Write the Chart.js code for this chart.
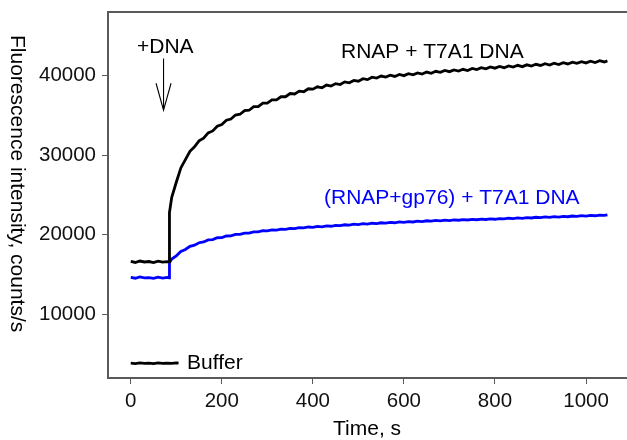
<!DOCTYPE html>
<html>
<head>
<meta charset="utf-8">
<title>Fluorescence intensity</title>
<script src="https://cdn.jsdelivr.net/npm/chart.js@4.4.1/dist/chart.umd.min.js"></script>
<style>
    html, body { margin: 0; padding: 0; background: #ffffff; }
    #grafico { display: block; }
</style>
</head>
<body>
<canvas id="grafico" width="627" height="440"></canvas>
<script>
// Time points (s), shared by both reaction traces
const tempos = [
    0, 10, 20, 30, 40, 50, 60, 70, 80, 84,
    85, 90, 100, 110, 120, 130, 140, 150, 160, 170, 180, 190,
    200, 210, 220, 230, 240, 250, 260, 270, 280, 290,
    300, 310, 320, 330, 340, 350, 360, 370, 380, 390,
    400, 410, 420, 430, 440, 450, 460, 470, 480, 490,
    500, 510, 520, 530, 540, 550, 560, 570, 580, 590,
    600, 610, 620, 630, 640, 650, 660, 670, 680, 690,
    700, 710, 720, 730, 740, 750, 760, 770, 780, 790,
    800, 810, 820, 830, 840, 850, 860, 870, 880, 890,
    900, 910, 920, 930, 940, 950, 960, 970, 980, 990,
    1000, 1010, 1020, 1030, 1040, 1047
];

// RNAP + T7A1 DNA (counts/s)
const rnapT7A1 = [
    16650, 16520, 16700, 16580, 16640, 16510, 16690, 16560, 16620, 16600,
    22800, 24700, 26600, 28400, 29450, 30500, 31050, 31800, 32150, 32800, 33050, 33650,
    33850, 34400, 34550, 35050, 35150, 35600, 35650, 36100, 36100, 36550,
    36550, 36950, 36950, 37350, 37350, 37750, 37700, 38050, 37980, 38350,
    38300, 38600, 38480, 38820, 38700, 39000, 38880, 39220, 39100, 39400,
    39300, 39620, 39500, 39800, 39700, 39950, 39820, 40050, 39900, 40150,
    40000, 40250, 40100, 40350, 40200, 40450, 40300, 40550, 40420, 40650,
    40500, 40720, 40580, 40800, 40650, 40900, 40760, 41000, 40850, 41100,
    40940, 41150, 41000, 41230, 41080, 41300, 41130, 41360, 41200, 41430,
    41280, 41500, 41330, 41560, 41400, 41630, 41470, 41700, 41540, 41760,
    41600, 41820, 41650, 41880, 41720, 41850
];

// (RNAP+gp76) + T7A1 DNA (counts/s)
const rnapGp76T7A1 = [
    14650, 14540, 14700, 14580, 14620, 14530, 14680, 14560, 14640, 14600,
    16500, 16950, 17350, 17900, 18150, 18550, 18700, 19000, 19100, 19350, 19400, 19630,
    19650, 19850, 19860, 20050, 20040, 20210, 20200, 20370, 20360, 20510,
    20480, 20620, 20590, 20720, 20690, 20810, 20780, 20900, 20860, 20980,
    20930, 21060, 21000, 21120, 21070, 21190, 21140, 21260, 21210, 21330,
    21280, 21390, 21340, 21450, 21400, 21510, 21460, 21560, 21510, 21610,
    21560, 21660, 21610, 21710, 21660, 21760, 21710, 21800, 21750, 21840,
    21790, 21880, 21830, 21910, 21860, 21940, 21890, 21970, 21920, 22000,
    21950, 22040, 21990, 22080, 22030, 22120, 22070, 22160, 22110, 22200,
    22150, 22240, 22190, 22280, 22230, 22320, 22270, 22360, 22310, 22400,
    22350, 22440, 22390, 22480, 22430, 22500
];

// Buffer alone
const temposTampao = [0, 10, 20, 30, 40, 50, 60, 70, 80, 90, 100, 105];
const tampao = [3880, 3820, 3900, 3840, 3870, 3810, 3890, 3830, 3880, 3850, 3900, 3860];

const ticksX = [0, 200, 400, 600, 800, 1000];
const ticksY = [10000, 20000, 30000, 40000];

const FONTE = "'Liberation Sans', Arial, sans-serif";
const COR_EIXO = '#5a5a5a';

function montarPontos(xs, ys) {
    return xs.map((x, i) => ({ x: x, y: ys[i] }));
}

// Labels, arrow and the top frame line
const pluginAnotacoes = {
    id: 'anotacoes',
    afterDraw(chart) {
        const ctx = chart.ctx;
        const area = chart.chartArea;
        const sx = chart.scales.x;
        const sy = chart.scales.y;

        ctx.save();
        ctx.strokeStyle = COR_EIXO;
        ctx.lineWidth = 2;
        ctx.beginPath();
        ctx.moveTo(area.left - 1, area.top);
        ctx.lineTo(chart.width, area.top);
        ctx.stroke();

        // +DNA arrow
        const xSeta = sx.getPixelForValue(72);
        const yTopo = sy.getPixelForValue(42150);
        const yPonta = sy.getPixelForValue(35650);
        ctx.strokeStyle = '#000';
        ctx.lineWidth = 1.1;
        ctx.beginPath();
        ctx.moveTo(xSeta, yTopo);
        ctx.lineTo(xSeta, yPonta);
        ctx.moveTo(xSeta - 7.5, yPonta - 27);
        ctx.lineTo(xSeta, yPonta);
        ctx.lineTo(xSeta + 7.5, yPonta - 27);
        ctx.stroke();

        ctx.font = '21px ' + FONTE;
        ctx.textAlign = 'left';
        ctx.textBaseline = 'alphabetic';
        ctx.fillStyle = '#000';
        ctx.fillText('+DNA', 137, 53);
        ctx.fillText('RNAP + T7A1 DNA', 341, 58);
        ctx.fillText('Buffer', 187, 369);
        ctx.fillText('Time, s', 333, 435);
        ctx.fillStyle = '#0000ff';
        ctx.fillText('(RNAP+gp76) + T7A1 DNA', 324, 204);

        // y axis title, reading downwards
        ctx.fillStyle = '#000';
        ctx.translate(11, 35);
        ctx.rotate(Math.PI / 2);
        ctx.fillText('Fluorescence intensity, counts/s', 0, 0);
        ctx.restore();
    }
};

function criarGrafico() {
    const ctx = document.getElementById('grafico').getContext('2d');

    const config = {
        type: 'line',
        data: {
            datasets: [
                {
                    label: 'RNAP + T7A1 DNA',
                    data: montarPontos(tempos, rnapT7A1),
                    borderColor: '#000000',
                    borderWidth: 2.8
                },
                {
                    label: '(RNAP+gp76) + T7A1 DNA',
                    data: montarPontos(tempos, rnapGp76T7A1),
                    borderColor: '#0000ff',
                    borderWidth: 2.8
                },
                {
                    label: 'Buffer',
                    data: montarPontos(temposTampao, tampao),
                    borderColor: '#000000',
                    borderWidth: 2.8
                }
            ]
        },
        options: {
            responsive: false,
            animation: false,
            devicePixelRatio: 1,
            elements: {
                point: { radius: 0 },
                line: { tension: 0, fill: false }
            },
            layout: { padding: { top: 12, right: 0, left: 0, bottom: 0 } },
            plugins: {
                legend: { display: false },
                tooltip: { enabled: false }
            },
            scales: {
                x: {
                    type: 'linear',
                    min: -50,
                    max: 1090,
                    afterBuildTicks: (escala) => { escala.ticks = ticksX.map(v => ({ value: v })); },
                    afterFit: (escala) => {
                        escala.height = 62;
                        escala.paddingLeft = 0;
                        escala.paddingRight = 0;
                    },
                    grid: { drawOnChartArea: false, drawTicks: true, tickLength: 6, color: COR_EIXO },
                    border: { display: true, color: COR_EIXO, width: 2 },
                    ticks: {
                        font: { family: FONTE, size: 20.5 },
                        color: '#111',
                        padding: 5,
                        maxRotation: 0,
                        callback: (valor) => String(valor)
                    }
                },
                y: {
                    type: 'linear',
                    min: 2000,
                    max: 48000,
                    afterBuildTicks: (escala) => { escala.ticks = ticksY.map(v => ({ value: v })); },
                    afterFit: (escala) => {
                        escala.width = 108;
                        escala.paddingTop = 0;
                        escala.paddingBottom = 0;
                    },
                    grid: { drawOnChartArea: false, drawTicks: true, tickLength: 6, color: COR_EIXO },
                    border: { display: true, color: COR_EIXO, width: 2 },
                    ticks: {
                        font: { family: FONTE, size: 20.5 },
                        color: '#111',
                        padding: 6,
                        callback: (valor) => String(valor)
                    }
                }
            }
        },
        plugins: [pluginAnotacoes]
    };

    window.chartFluorescencia = new Chart(ctx, config);
}

document.addEventListener('DOMContentLoaded', criarGrafico);
</script>
</body>
</html>
